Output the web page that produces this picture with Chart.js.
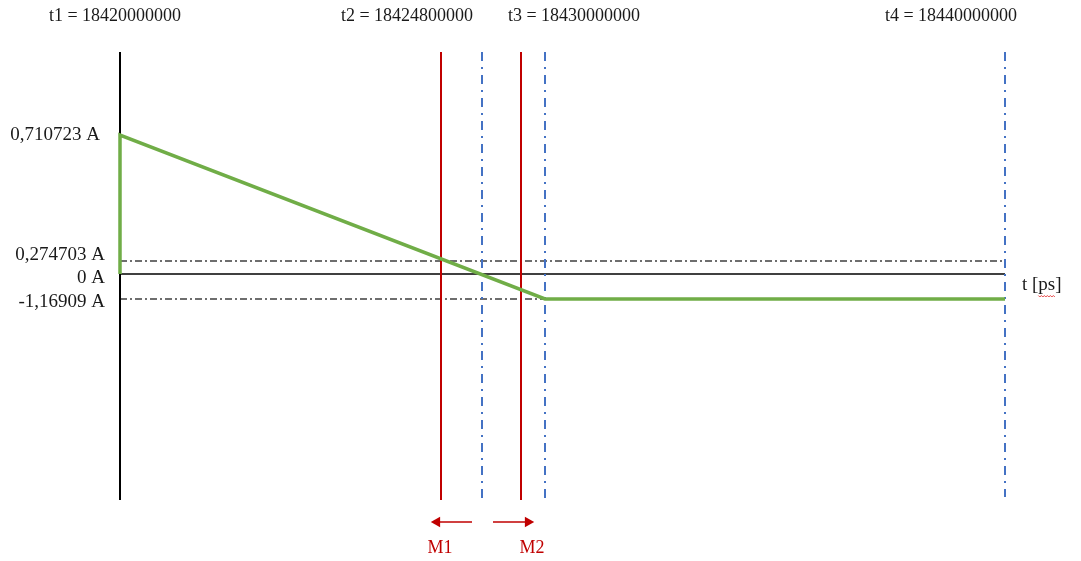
<!DOCTYPE html>
<html>
<head>
<meta charset="utf-8">
<script src="https://cdn.jsdelivr.net/npm/chart.js@4.4.0/dist/chart.umd.min.js"></script>
<style>
	html, body { margin: 0; padding: 0; background: #fff; }
	#wrap { width: 1081px; height: 561px; }
</style>
</head>
<body>
<div id="wrap"><canvas id="chart" width="1081" height="561"></canvas></div>
<script>
// schematic diagram: the axes are not to scale, so positions are schematic units
const timeLabels = ['t1 = 18420000000', 't2 = 18424800000', 't3 = 18430000000', 't4 = 18440000000'];
const timeLabelX = [-5, 287, 454, 831];

const currentLabels = ['0,710723 A', '0,274703 A', '0 A', '-1,16909 A'];
const currentLevels = [139, 13, 0, -25];
const currentLabelY = [139, 19, -4, -28];
const currentLabelRight = [-20, -15, -15, -15];

// green current waveform
const waveX = [0, 0, 425, 885];
const waveY = [0, 139, -25, -25];

// marker lines
const redMarkers = [321, 401];
const blueMarkers = [362, 425, 885];
const blueBottoms = [-226, -226, -223];
const markerLabels = ['M1', 'M2'];
const markerArrowFrom = [352, 373];
const markerArrowTo = [312, 413];
const markerLabelX = [320, 412];

const axisTop = 222, axisBottom = -226, axisEnd = 885, scaleMin = -287;
const arrowY = -248, markerTextY = -274;

const red = '#c00000', blue = '#4472c4', green = '#70ad47', grey = '#3f3f3f';

const datasets = [];

// dash-dot horizontal levels
[currentLevels[1], currentLevels[3]].forEach(y => {
	datasets.push({
		data: [{x: 0, y: y}, {x: axisEnd, y: y}],
		borderColor: grey, borderWidth: 1.3, borderDash: [7, 3, 2, 3], order: 5
	});
});

// axes
datasets.push({data: [{x: 0, y: 0}, {x: axisEnd, y: 0}], borderColor: '#000', borderWidth: 1.4, order: 4});
datasets.push({data: [{x: 0, y: axisTop}, {x: 0, y: axisBottom}], borderColor: '#000', borderWidth: 2, order: 4});

// blue dash-dot markers
blueMarkers.forEach((x, i) => {
	datasets.push({
		data: [{x: x, y: axisTop}, {x: x, y: blueBottoms[i]}],
		borderColor: blue, borderWidth: 2, borderDash: [9, 6, 2, 6], order: 3
	});
});

// red markers
redMarkers.forEach(x => {
	datasets.push({data: [{x: x, y: axisTop}, {x: x, y: axisBottom}], borderColor: red, borderWidth: 2, order: 2});
});

// waveform, drawn on top
datasets.push({
	data: waveX.map((x, i) => ({x: x, y: waveY[i]})),
	borderColor: green, borderWidth: 3.5, borderJoinStyle: 'miter', order: 0
});

// arrows below the markers
markerArrowFrom.forEach((x0, i) => {
	const x1 = markerArrowTo[i];
	const dir = x1 > x0 ? 1 : -1;
	datasets.push({
		data: [{x: x0, y: arrowY}, {x: x1 - dir * 6, y: arrowY}],
		borderColor: red, borderWidth: 1.5, order: 1
	});
	datasets.push({
		data: [{x: x1 - dir * 5, y: arrowY}],
		showLine: false, order: 1,
		pointStyle: 'triangle', pointRadius: 6.2,
		pointRotation: dir > 0 ? 90 : 270,
		pointBackgroundColor: red, pointBorderColor: red, pointBorderWidth: 0
	});
});

datasets.forEach(d => {
	if (d.showLine === undefined) d.showLine = true;
	if (d.pointRadius === undefined) d.pointRadius = 0;
	d.borderCapStyle = 'butt';
	d.tension = 0;
	d.clip = false;
});

const textPlugin = {
	id: 'texts',
	afterDraw(chart) {
		const ctx = chart.ctx;
		const xs = chart.scales.x, ys = chart.scales.y;
		ctx.save();
		ctx.font = '18px "Liberation Serif", "Times New Roman", serif';
		ctx.fillStyle = '#1a1a1a';
		ctx.textBaseline = 'middle';

		ctx.textAlign = 'center';
		timeLabels.forEach((t, i) => {
			ctx.fillText(t, xs.getPixelForValue(timeLabelX[i]), 16);
		});

		ctx.font = '19px "Liberation Serif", "Times New Roman", serif';
		ctx.textAlign = 'right';
		currentLabels.forEach((t, i) => {
			ctx.fillText(t, xs.getPixelForValue(currentLabelRight[i]), ys.getPixelForValue(currentLabelY[i]));
		});

		ctx.textAlign = 'left';
		const tx = xs.getPixelForValue(axisEnd) + 17, ty = ys.getPixelForValue(-11);
		ctx.fillText('t [ps]', tx, ty);
		// spell-check squiggle under "ps"
		const sx = tx + ctx.measureText('t [').width;
		const sw = ctx.measureText('ps').width;
		ctx.strokeStyle = '#e02020';
		ctx.lineWidth = 0.8;
		ctx.beginPath();
		for (let k = 0; k <= sw; k += 1.5) {
			ctx.lineTo(sx + k, ty + 11 + ((k / 1.5) % 2 ? 1 : -0.5));
		}
		ctx.stroke();

		ctx.font = '18px "Liberation Serif", "Times New Roman", serif';
		ctx.fillStyle = red;
		ctx.textAlign = 'center';
		markerLabels.forEach((t, i) => {
			ctx.fillText(t, xs.getPixelForValue(markerLabelX[i]), ys.getPixelForValue(markerTextY));
		});
		ctx.restore();
	}
};

new Chart(document.getElementById('chart'), {
	type: 'scatter',
	data: {datasets: datasets},
	options: {
		responsive: false,
		animation: false,
		layout: {autoPadding: false, padding: {left: 120, right: 76, top: 52, bottom: 0}},
		scales: {
			x: {type: 'linear', display: false, min: 0, max: axisEnd},
			y: {type: 'linear', display: false, min: scaleMin, max: axisTop}
		},
		plugins: {legend: {display: false}, tooltip: {enabled: false}}
	},
	plugins: [textPlugin]
});
</script>
</body>
</html>
